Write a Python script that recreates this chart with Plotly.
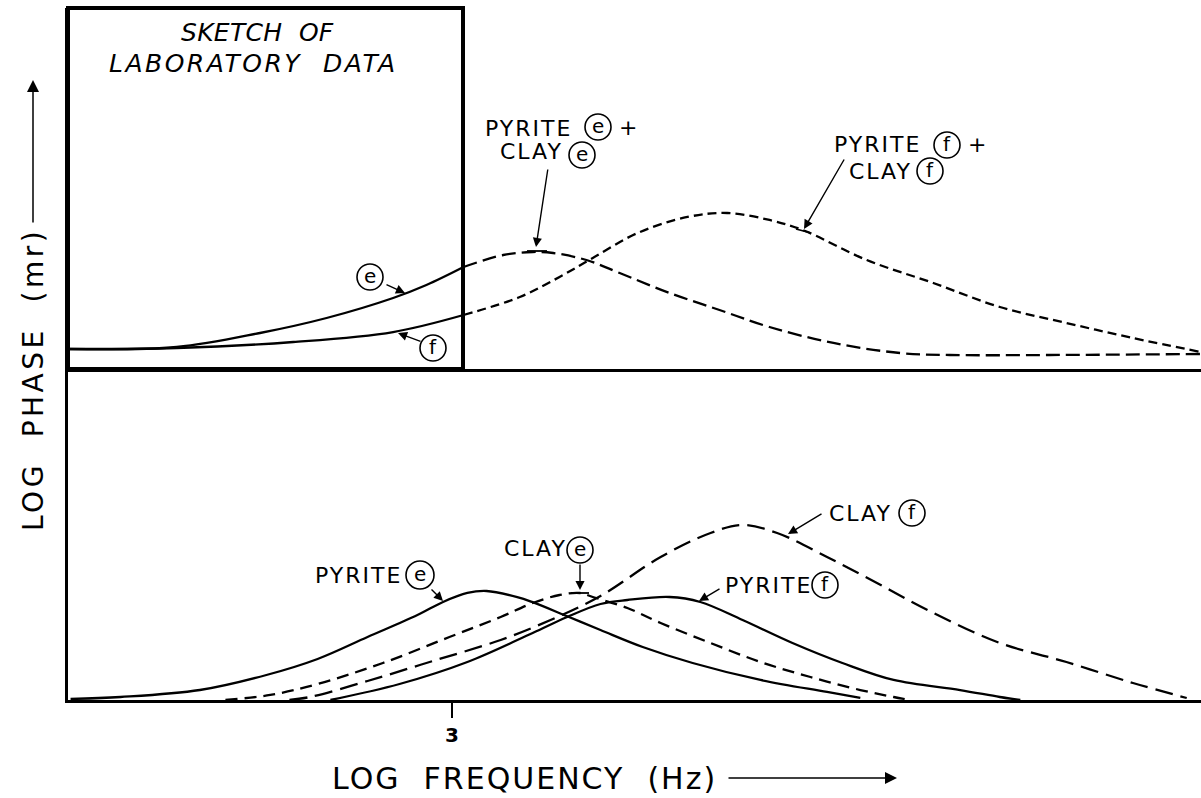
import plotly.graph_objects as go

W, H = 1201, 798

# ---------------- data (log frequency, arbitrary log-phase units) ----------------
BOX_EDGE = 3.09  # right edge of the "laboratory data" window (log frequency)

up_e_x = [0.0, 0.85, 1.50, 2.02, 2.54, 2.80, 3.09, 3.40, 3.63, 3.79, 4.05, 4.31,
          4.70, 5.09, 5.48, 5.98, 6.50, 6.89, 7.67, 8.85]
up_e_y = [6.67, 7.33, 12.0, 17.0, 23.67, 28.0, 34.0, 38.0, 39.0, 38.67, 36.33, 32.0,
          25.33, 19.67, 14.0, 8.67, 5.33, 4.67, 4.67, 5.0]

up_f_x = [0.0, 0.85, 1.76, 2.54, 3.09, 3.53, 3.84, 4.10, 4.45, 4.84, 5.15, 5.48,
          5.74, 6.24, 6.76, 7.28, 7.80, 8.32, 8.85]
up_f_y = [6.67, 7.0, 9.0, 12.33, 18.0, 24.0, 30.67, 37.0, 45.33, 50.67, 52.0, 49.67,
          46.33, 36.33, 28.67, 20.67, 15.33, 10.33, 5.67]

pyr_e_x = [0.02, 0.41, 1.03, 1.55, 1.95, 2.34, 2.73, 2.93, 3.12, 3.27, 3.51, 3.63,
           3.90, 4.16, 4.49, 4.88, 5.41, 5.93, 6.19]
pyr_e_y = [0.33, 1.0, 3.33, 8.33, 13.67, 21.0, 28.33, 32.67, 35.67, 36.33, 34.3, 32.6,
           27.9, 23.33, 17.67, 12.33, 6.67, 2.67, 0.67]

clay_e_x = [1.23, 1.58, 1.95, 2.46, 2.98, 3.38, 3.63, 3.84, 4.00, 4.10, 4.37, 4.63,
            5.02, 5.41, 5.80, 6.19, 6.45, 6.58]
clay_e_y = [0.0, 1.67, 5.33, 12.33, 21.0, 27.67, 32.33, 35.0, 35.67, 34.33, 30.67, 25.67,
            19.0, 12.67, 7.67, 3.33, 1.0, 0.0]

clay_f_x = [1.73, 1.89, 2.34, 2.85, 3.38, 3.77, 4.16, 4.63, 5.02, 5.27, 5.54, 5.93,
            6.32, 6.73, 7.28, 7.80, 8.32, 8.74]
clay_f_y = [0.0, 1.0, 6.33, 13.0, 20.0, 26.67, 34.67, 47.67, 55.67, 58.33, 55.67, 47.67,
            39.0, 29.67, 19.0, 12.67, 5.67, 0.67]

pyr_f_x = [2.05, 2.59, 3.12, 3.63, 3.90, 4.16, 4.37, 4.70, 4.94, 5.27, 5.66, 6.05,
           6.45, 6.97, 7.28, 7.44]
pyr_f_y = [0.0, 5.33, 12.67, 22.33, 27.67, 32.0, 33.33, 34.33, 32.67, 26.67, 19.0, 12.33,
           6.67, 3.33, 1.0, 0.0]

x_ticks = [3]
x_tick_text = ["3"]

# ---------------- helpers ----------------
FONT = "DejaVu Sans"


def px(x):
    return x / W


def py(y):
    return 1 - y / H


def split(xs, ys, edge):
    a = [(x, y) for x, y in zip(xs, ys) if x <= edge]
    b = [(x, y) for x, y in zip(xs, ys) if x >= edge]
    return ([p[0] for p in a], [p[1] for p in a]), ([p[0] for p in b], [p[1] for p in b])


fig = go.Figure()


def line(xs, ys, dash="solid", yaxis="y", xaxis="x", width=2.3):
    fig.add_trace(go.Scatter(
        x=xs, y=ys, mode="lines", xaxis=xaxis, yaxis=yaxis,
        line=dict(color="black", width=width, dash=dash, shape="spline", smoothing=1.0),
        showlegend=False, hoverinfo="skip"))


# upper panel
(e_in, e_out) = split(up_e_x, up_e_y, BOX_EDGE)
(f_in, f_out) = split(up_f_x, up_f_y, BOX_EDGE)
line(*e_in, yaxis="y2", xaxis="x2")
line(*f_in, yaxis="y2", xaxis="x2")
line(*e_out, dash="14px,6px", yaxis="y2", xaxis="x2")
line(*f_out, dash="9px,5px", yaxis="y2", xaxis="x2")

# lower panel
line(pyr_e_x, pyr_e_y)
line(pyr_f_x, pyr_f_y)
line(clay_e_x, clay_e_y, dash="12px,7px")
line(clay_f_x, clay_f_y, dash="18px,8px")

annotations = []
shapes = []


def text(t, x, y, size=22, anchor="left", ls=2, italic=False, angle=0, weight="normal"):
    annotations.append(dict(
        text=f'<span style="letter-spacing:{ls}px">{t}</span>',
        x=px(x), y=py(y), xref="paper", yref="paper",
        xanchor=anchor, yanchor="middle", showarrow=False, textangle=angle,
        font=dict(family=FONT, size=size, color="black",
                  style="italic" if italic else "normal", weight=weight)))


def circled(letter, cx, cy, r=13):
    shapes.append(dict(type="circle", xref="paper", yref="paper",
                       x0=px(cx - r), x1=px(cx + r), y0=py(cy + r), y1=py(cy - r),
                       line=dict(color="black", width=1.6)))
    annotations.append(dict(text=letter, x=px(cx), y=py(cy - 1), xref="paper", yref="paper",
                            xanchor="center", yanchor="middle", showarrow=False,
                            font=dict(family=FONT, size=20, color="black")))


def arrow(tx, ty, hx, hy, size=1.3, width=1.4):
    annotations.append(dict(text="", x=px(hx), y=py(hy), xref="paper", yref="paper",
                            ax=tx - hx, ay=ty - hy, axref="pixel", ayref="pixel",
                            showarrow=True, arrowhead=2, arrowsize=size, arrowwidth=width,
                            arrowcolor="black"))


def seg(x0, y0, x1, y1, w=1.8):
    shapes.append(dict(type="line", xref="paper", yref="paper",
                       x0=px(x0), y0=py(y0), x1=px(x1), y1=py(y1),
                       line=dict(color="black", width=w)))


# laboratory data window
shapes.append(dict(type="rect", xref="paper", yref="paper",
                   x0=px(68), x1=px(463), y0=py(369), y1=py(8),
                   line=dict(color="black", width=4)))
text("SKETCH&nbsp;&nbsp;OF", 257, 33, size=25, anchor="center", ls=0.3, italic=True)
text("LABORATORY&nbsp;&nbsp;DATA", 253, 63, size=25, anchor="center", ls=2.5, italic=True)

# curve labels inside the window
circled("e", 370, 277)
arrow(385, 284, 405, 293)
circled("f", 433, 348)
arrow(422, 342, 398, 333)

# upper panel labels
text("PYRITE", 483, 128)
circled("e", 598, 127)
text("+", 628, 127, anchor="center", ls=0)
text("CLAY", 498, 151)
circled("e", 582, 155)
arrow(548, 168, 536, 247)
seg(527, 251, 547, 251)

text("PYRITE", 832, 145)
circled("f", 947, 145)
text("+", 977, 145, anchor="center", ls=0)
text("CLAY", 847, 171)
circled("f", 930, 171)
arrow(845, 158, 804, 229)
seg(796, 229, 811, 233)

# lower panel labels
text("PYRITE", 313, 575)
circled("e", 420, 575, r=14)
arrow(430, 588, 443, 601)
text("CLAY", 502, 548)
circled("e", 580, 550)
arrow(580, 563, 580, 590)
seg(571, 593, 589, 593)
text("CLAY", 827, 513)
circled("f", 912, 513)
arrow(823, 513, 788, 534)
text("PYRITE", 723, 585)
circled("f", 825, 585)
arrow(721, 588, 699, 601)

# axis titles with arrows
text("LOG&nbsp;&nbsp;PHASE&nbsp;&nbsp;(mr)", 33, 380, size=28, anchor="center", ls=3.5, angle=-90)
arrow(33, 224, 33, 80, size=1.6, width=1.5)
text("LOG&nbsp;&nbsp;FREQUENCY&nbsp;&nbsp;(Hz)", 330, 778, size=30, anchor="left", ls=2)
arrow(727, 778, 897, 778, size=1.6, width=1.5)

X_RANGE = [0, (W - 68) / 128]
low_dom = [py(700), py(369)]
up_dom = [py(369), py(8)]

fig.update_layout(
    width=W, height=H,
    margin=dict(l=0, r=0, t=0, b=0),
    paper_bgcolor="white", plot_bgcolor="white",
    hovermode=False,
    xaxis=dict(domain=[px(68), 1], range=X_RANGE, anchor="y",
               showline=True, linecolor="black", linewidth=3,
               showgrid=False, zeroline=False,
               tickmode="array", tickvals=x_ticks, ticktext=x_tick_text,
               ticks="outside", ticklen=15, tickwidth=1.5, tickcolor="black",
               ticklabelstandoff=0,
               tickfont=dict(family=FONT, size=20, color="black", weight="bold")),
    xaxis2=dict(domain=[px(68), 1], range=X_RANGE, anchor="y2", matches="x",
                showline=True, linecolor="black", linewidth=2.5,
                showgrid=False, zeroline=False, showticklabels=False, ticks=""),
    yaxis=dict(domain=low_dom, range=[0, 331 / 3], anchor="x",
               showline=True, linecolor="black", linewidth=3,
               showgrid=False, zeroline=False, showticklabels=False, ticks=""),
    yaxis2=dict(domain=up_dom, range=[0, 361 / 3], anchor="x2",
                showline=True, linecolor="black", linewidth=3,
                showgrid=False, zeroline=False, showticklabels=False, ticks=""),
    annotations=annotations,
    shapes=shapes,
)

fig.write_html("out.html")
